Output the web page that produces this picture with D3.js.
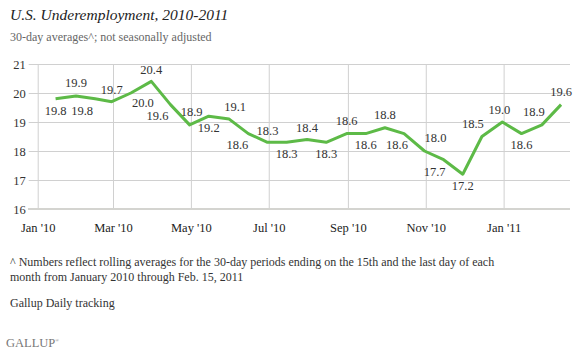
<!DOCTYPE html>
<html>
<head>
<meta charset="utf-8">
<script src="https://cdn.jsdelivr.net/npm/d3@7"></script>
<style>
  body { margin: 0; background: #fff; }
</style>
</head>
<body>
<div id="chart"></div>
<script>
// dates (end of each 30-day period) and values
const dates = ["2010-01-15", "2010-01-31", "2010-02-15", "2010-02-28", "2010-03-15", "2010-03-31",
  "2010-04-15", "2010-04-30", "2010-05-15", "2010-05-31", "2010-06-15", "2010-06-30",
  "2010-07-15", "2010-07-31", "2010-08-15", "2010-08-31", "2010-09-15", "2010-09-30",
  "2010-10-15", "2010-10-31", "2010-11-15", "2010-11-30", "2010-12-15", "2010-12-31",
  "2011-01-15", "2011-01-31", "2011-02-15"];
const values = [19.8, 19.9, 19.8, 19.7, 20.0, 20.4, 19.6, 18.9, 19.2, 19.1, 18.6, 18.3,
  18.3, 18.4, 18.3, 18.6, 18.6, 18.8, 18.6, 18.0, 17.7, 17.2, 18.5, 19.0, 18.6, 18.9, 19.6];

const xTickDates = ["2010-01-01", "2010-03-01", "2010-05-01", "2010-07-01", "2010-09-01", "2010-11-01", "2011-01-01"];
const xTickLabels = ["Jan '10", "Mar '10", "May '10", "Jul '10", "Sep '10", "Nov '10", "Jan '11"];
const yTicks = [16, 17, 18, 19, 20, 21];

// label placement (dx, dy) per point
const labelOffsets = [[0, 12], [0, -13], [-13, 12], [0, -12], [12, 10], [0, -12], [-13, 11], [2, -13],
  [0, 11.5], [6, -12], [-11, 11.5], [0, -12], [0, 11], [0, -12], [0, 11], [0, -12.5], [0, 11.5],
  [0, -13.5], [-7, 11.5], [11, -13], [-9, 12], [0, 11], [-9, -12.5], [-3, -12], [0, 11.5], [-8, -13], [0, -13]];

const FONT = "'Liberation Serif', serif";

const parse = d3.timeParse("%Y-%m-%d");
const data = dates.map((d, i) => ({date: parse(d), value: values[i], off: labelOffsets[i]}));

const W = 577, H = 354;
const svg = d3.select("#chart").append("svg")
    .attr("width", W)
    .attr("height", H);

const x = d3.scaleTime()
    .domain([parse("2010-01-01"), parse("2011-02-22")])
    .range([37.7, 570]);
const y = d3.scaleLinear()
    .domain([16, 21])
    .range([209, 64]);

// titre
svg.append("text")
    .attr("x", 10).attr("y", 20)
    .attr("font-family", FONT)
    .style("font-size", "15.5px")
    .style("font-style", "italic")
    .style("fill", "#222")
    .text("U.S. Underemployment, 2010-2011");
svg.append("text")
    .attr("x", 10).attr("y", 41)
    .attr("font-family", FONT)
    .style("font-size", "12px")
    .style("fill", "#666")
    .text("30-day averages^; not seasonally adjusted");

// grille horitzontal + eix Y
svg.append("g")
    .attr("transform", "translate(37.7,0)")
    .call(d3.axisLeft(y).tickValues(yTicks).tickSize(9).tickFormat(d3.format("d")))
    .attr("font-family", FONT)
    .call(g => g.select(".domain").remove())
    .call(g => g.selectAll("line").attr("stroke", "#d0d0d0").attr("x2", 570 - 37.7).attr("x1", -9))
    .call(g => g.selectAll("text").attr("x", -12).style("font-size", "12.5px").style("fill", "#333"));

// grille vertical + eix X
svg.append("g")
    .attr("transform", "translate(0,209)")
    .call(d3.axisBottom(x).tickValues(xTickDates.map(parse)).tickSize(0)
        .tickFormat((d, i) => xTickLabels[i]))
    .attr("font-family", FONT)
    .call(g => g.select(".domain").remove())
    .call(g => g.selectAll("line").attr("stroke", "#d0d0d0").attr("y2", -145))
    .call(g => g.selectAll("text").attr("dy", "0").attr("y", 23).style("font-size", "12.5px").style("fill", "#222"));

// línia base
svg.append("line")
    .attr("x1", 28).attr("x2", 570)
    .attr("y1", 209).attr("y2", 209)
    .attr("stroke", "#d4d4d0")
    .attr("stroke-width", 2);

// línia de dades
svg.append("path")
    .datum(data)
    .attr("fill", "none")
    .attr("stroke", "#5dba47")
    .attr("stroke-width", 3)
    .attr("stroke-linejoin", "round")
    .attr("d", d3.line().x(d => x(d.date)).y(d => y(d.value)));

// etiquetes
svg.selectAll(".lbl")
    .data(data)
    .enter()
    .append("text")
        .attr("class", "lbl")
        .attr("font-family", FONT)
        .attr("x", d => x(d.date) + d.off[0])
        .attr("y", d => y(d.value) + d.off[1])
        .attr("dy", "0.35em")
        .attr("text-anchor", "middle")
        .style("font-size", "12.5px")
        .style("fill", "#333")
        .text(d => d3.format(".1f")(d.value));

// notes
const notes = ["^ Numbers reflect rolling averages for the 30-day periods ending on the 15th and the last day of each",
  "month from January 2010 through Feb. 15, 2011"];
svg.selectAll(".note")
    .data(notes)
    .enter()
    .append("text")
        .attr("class", "note")
        .attr("font-family", FONT)
        .attr("x", 10)
        .attr("y", (d, i) => 266 + i * 15)
        .style("font-size", "12px")
        .style("fill", "#333")
        .text(d => d);

svg.append("text")
    .attr("x", 10).attr("y", 307)
    .attr("font-family", FONT)
    .style("font-size", "12px")
    .style("fill", "#333")
    .text("Gallup Daily tracking");

const logo = svg.append("text")
    .attr("x", 6).attr("y", 347)
    .attr("font-family", FONT)
    .style("font-size", "12.5px")
    .style("fill", "#777")
    .text("GALLUP");
logo.append("tspan")
    .attr("dy", -5)
    .style("font-size", "5px")
    .text("®");
</script>
</body>
</html>
